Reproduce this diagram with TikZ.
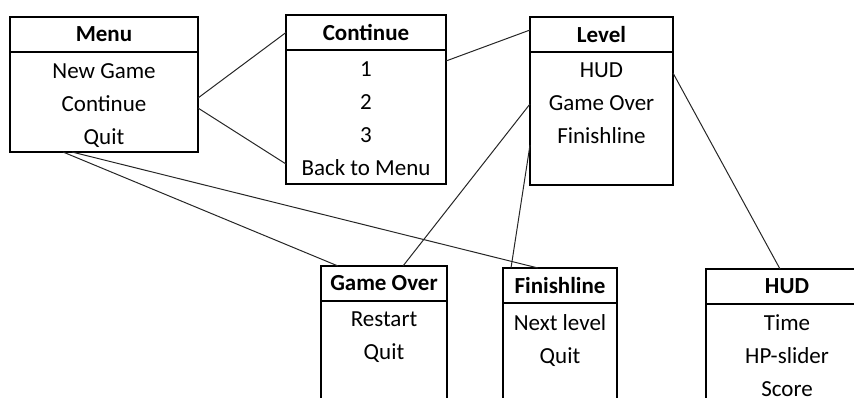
\documentclass[tikz,border=0pt]{standalone}
\usepackage{fontspec}
\setmainfont{Carlito}
\usetikzlibrary{positioning}

\begin{document}
\begin{tikzpicture}[x=1pt, y=-1pt,
        boxhead/.style={
            draw,
            line width=2.6pt,
            inner sep=0pt,
            outer sep=0pt,
            minimum height=35pt,
            font=\fontsize{23}{33}\selectfont\bfseries},
        boxbody/.style={
            draw,
            line width=2.6pt,
            inner sep=0pt,
            outer sep=0pt},
        entries/.style={
            inner sep=0pt,
            align=center,
            font=\fontsize{23}{33}\selectfont},
        wire/.style={line width=1pt, black!85}]

        \clip (0,0) rectangle (854,397);

        % upper row
        \node[boxhead, minimum width=188pt, anchor=north west](menuhead) at (10,17) {Menu};
        \node[boxbody, minimum width=188pt, minimum height=100pt, below=0pt of menuhead](menubody) {};
        \node[entries, below=11pt of menubody.north](menuitems) {New Game\\Continue\\Quit};

        \node[boxhead, minimum width=160pt, anchor=north west](conthead) at (286,15) {Continue};
        \node[boxbody, minimum width=160pt, minimum height=134pt, below=0pt of conthead](contbody) {};
        \node[entries, below=11pt of contbody.north](contitems) {1\\2\\3\\Back to Menu};

        \node[boxhead, minimum width=143pt, anchor=north west](levelhead) at (530,17) {Level};
        \node[boxbody, minimum width=143pt, minimum height=133pt, below=0pt of levelhead](levelbody) {};
        \node[entries, below=11pt of levelbody.north](levelitems) {HUD\\Game Over\\Finishline};

        % lower row, cut off at the bottom
        \node[boxhead, minimum width=126pt, anchor=north west](overhead) at (321,266) {Game Over};
        \node[boxbody, minimum width=126pt, minimum height=140pt, below=0pt of overhead](overbody) {};
        \node[entries, below=11pt of overbody.north](overitems) {Restart\\Quit};

        \node[boxhead, minimum width=114pt, anchor=north west](finhead) at (503,268) {Finishline};
        \node[boxbody, minimum width=114pt, minimum height=140pt, below=0pt of finhead](finbody) {};
        \node[entries, below=11pt of finbody.north](finitems) {Next level\\Quit};

        \node[boxhead, minimum width=162pt, anchor=north west](hudhead) at (706,269) {HUD};
        \node[boxbody, minimum width=162pt, minimum height=140pt, below=0pt of hudhead](hudbody) {};
        \node[entries, below=10pt of hudbody.north](huditems) {Time\\HP-slider\\Score};

        % links
        \draw[wire] ([yshift=4pt]menubody.east) -- (conthead.west);
        \draw[wire] ([yshift=-6pt]menubody.east) -- ([yshift=-47pt]contbody.west);
        \draw[wire] ([yshift=-11pt]contbody.north east) -- ([yshift=4.5pt]levelhead.west);
        \draw[wire] ([yshift=14.5pt]levelbody.west) -- ([xshift=19pt]overhead.north);
        \draw[wire] ([yshift=-26.5pt]levelbody.west) -- ([xshift=8pt]finhead.north west);
        \draw[wire] ([yshift=45.5pt]levelbody.east) -- ([xshift=74pt]hudhead.north west);
        \draw[wire] ([xshift=53pt]menubody.south west) -- ([xshift=17pt]overhead.north west);
        \draw[wire] ([xshift=62pt]menubody.south west) -- ([xshift=-22pt]finhead.north);
    \end{tikzpicture}
\end{document}
